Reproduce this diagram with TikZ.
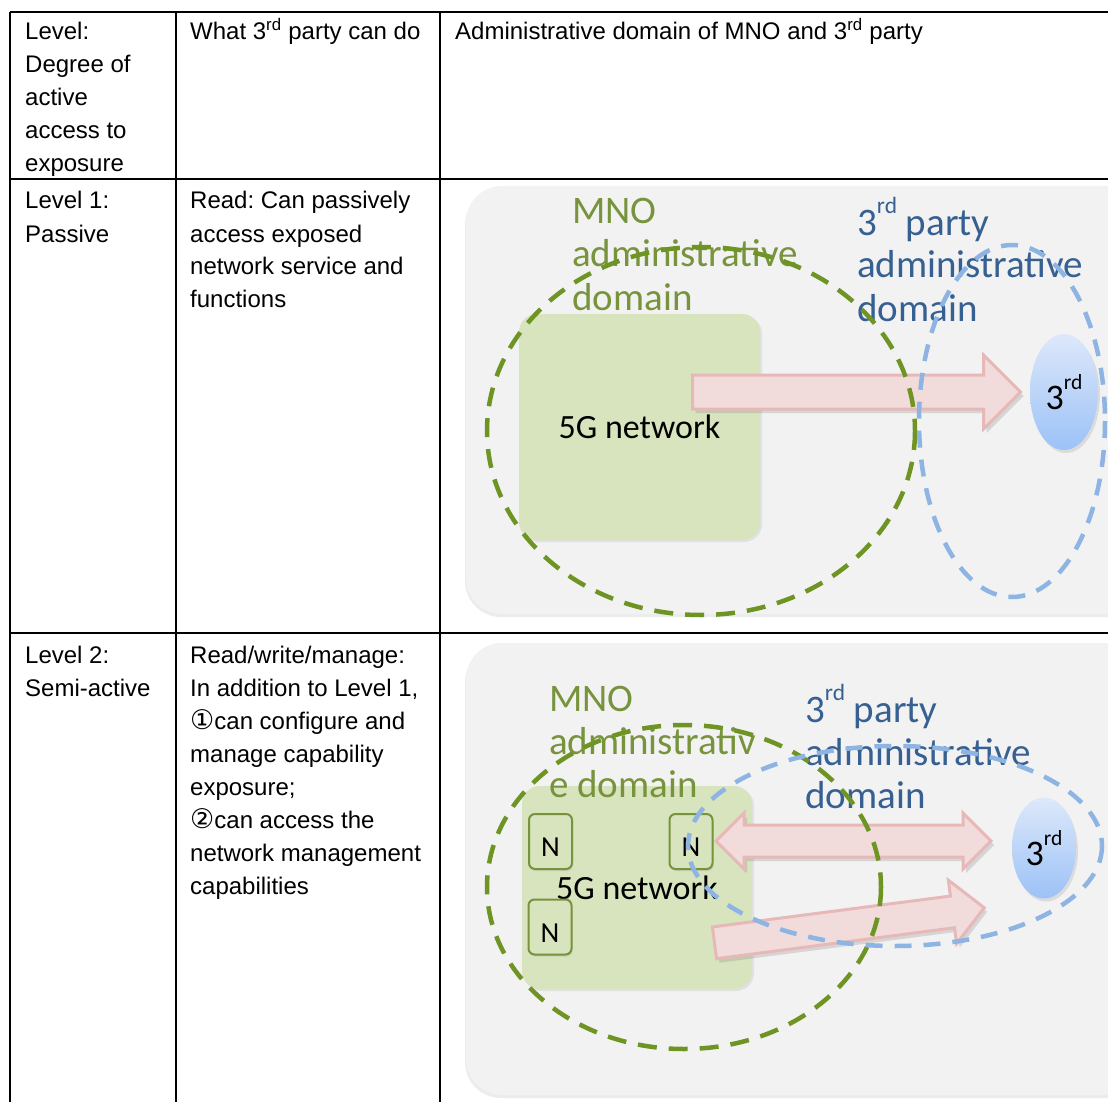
\documentclass[tikz,border=0pt]{standalone}
\usepackage{fontspec}
\setmainfont{Liberation Sans}
\newfontfamily\calibri{Carlito}
\newfontfamily\circfont{DejaVu Sans}
\usetikzlibrary{shapes.geometric, shapes.arrows, shadows}
\definecolor{panelgray}{HTML}{F2F2F2}
\definecolor{netfill}{HTML}{D7E4BD}
\definecolor{mnotext}{HTML}{77933C}
\definecolor{mnodash}{HTML}{6E9424}
\definecolor{partytext}{HTML}{376092}
\definecolor{partydash}{HTML}{8DB4E2}
\definecolor{arrowfill}{HTML}{F2DCDB}
\definecolor{arrowline}{HTML}{E6B9B8}
\definecolor{thirdtop}{HTML}{DDE8FA}
\definecolor{thirdbot}{HTML}{9CC2F7}
\newcommand{\circno}[1]{{\circfont\fontsize{27}{33}\selectfont #1}}
\newcommand{\rdsup}{\raisebox{0.55em}{\fontsize{0.6em}{1em}\selectfont rd}}

\begin{document}
\frenchspacing
\begin{tikzpicture}[x=1pt, y=-1pt,
    cell/.style={anchor=base west, inner sep=0pt, font=\fontsize{24}{33}\selectfont},
    grid line/.style={line width=1.8pt},
    panel/.style={fill=panelgray, rounded corners=36pt, drop shadow={shadow xshift=-1pt, shadow yshift=-3pt, opacity=0.15}},
    network/.style={fill=netfill, rounded corners=18pt, font=\calibri\fontsize{34}{40}\selectfont, drop shadow={shadow xshift=2pt, shadow yshift=-2pt, opacity=0.15}},
    nf box/.style={draw=mnotext, line width=2pt, fill=netfill, rounded corners=6pt, minimum width=43pt, minimum height=55pt, font=\calibri\fontsize{29}{30}\selectfont, drop shadow={shadow xshift=1pt, shadow yshift=-2pt, opacity=0.2}},
    third/.style={ellipse, top color=thirdtop, bottom color=thirdbot, inner sep=0pt, font=\calibri\fontsize{36}{40}\selectfont, drop shadow={shadow xshift=2pt, shadow yshift=-3pt, opacity=0.2}},
    mno label/.style={anchor=base west, inner sep=0pt, text=mnotext, font=\calibri\fontsize{39}{43}\selectfont},
    party label/.style={anchor=base west, inner sep=0pt, text=partytext, font=\calibri\fontsize{39}{43}\selectfont},
    exposure/.style={single arrow, anchor=tail, fill=arrowfill, draw=arrowline, line width=3pt, inner xsep=0pt, single arrow head extend=#1, drop shadow={shadow xshift=3pt, shadow yshift=-4pt, opacity=0.25}},
    two way/.style={double arrow, fill=arrowfill, draw=arrowline, line width=3pt, inner xsep=0pt, double arrow head extend=#1, drop shadow={shadow xshift=3pt, shadow yshift=-4pt, opacity=0.25}},
    mno domain/.style={draw=mnodash, line width=4.5pt, dash pattern=on 19pt off 12pt},
    party domain/.style={draw=partydash, line width=4.5pt, dash pattern=on 17pt off 12pt},
]

\useasboundingbox (0,0) rectangle (1108,1102);
\clip (0,0) rectangle (1108,1102);
\fill[white] (0,0) rectangle (1108,1102);

% Table grid
\draw[grid line] (10,12) -- (1120,12);
\draw[grid line] (10,179) -- (1120,179);
\draw[grid line] (10,633) -- (1120,633);
\draw[grid line] (10,12) -- (10,1110);
\draw[grid line] (176,12) -- (176,1110);
\draw[grid line] (440,12) -- (440,1110);

% Header row
\node[cell] (h1) at (25,40) {\begin{tabular}[t]{@{}l@{}}Level:\\Degree of\\active\\access to\\exposure\end{tabular}};
\node[cell] (h2) at (190,40) {What 3\textsuperscript{rd} party can do};
\node[cell] (h3) at (455,40) {Administrative domain of MNO and 3\textsuperscript{rd} party};

% Level 1 row
\node[cell] (l1a) at (25,209) {\begin{tabular}[t]{@{}l@{}}Level 1:\\Passive\end{tabular}};
\node[cell] (l1b) at (190,209) {\begin{tabular}[t]{@{}l@{}}Read: Can passively\\access exposed\\network service and\\functions\end{tabular}};

% Level 2 row
\node[cell] (l2a) at (25,663) {\begin{tabular}[t]{@{}l@{}}Level 2:\\Semi-active\end{tabular}};
\node[cell] (l2b) at (190,663) {\begin{tabular}[t]{@{}l@{}}Read/write/manage:\\In addition to Level 1,\\\circno{①}can configure and\\manage capability\\exposure;\\\circno{②}can access the\\network management\\capabilities\end{tabular}};

% Level 1 picture
\path[panel] (466,186) rectangle (1150,614);
\node[network, minimum width=241pt, minimum height=226pt] (net1) at (639.5,427) {5G network};
\node[exposure=20pt, minimum height=328pt, inner ysep=15.5pt] (exp1) at (691,392) {};
\node[third, minimum width=68pt, minimum height=116pt] (rd1) at (1064,392) {3\rdsup};
\node[mno label] (mno1) at (572,224) {\begin{tabular}[t]{@{}l@{}}MNO\\administrative\\domain\end{tabular}};
\node[party label] (pty1) at (857,235) {\begin{tabular}[t]{@{}l@{}}3\rdsup\ party\\administrative\\domain\end{tabular}};
\draw[mno domain] (701,431) ellipse [x radius=214, y radius=184];
\draw[party domain] (1012,421) ellipse [x radius=93, y radius=176];

% Level 2 picture
\path[panel] (466,643) rectangle (1150,1095);
\node[network, minimum width=230pt, minimum height=203pt] (net2) at (637,887.5) {5G network};
\node[nf box] (nf1) at (550.5,841.5) {\raisebox{-15pt}[0pt][0pt]{N}};
\node[nf box] (nf2) at (691,841.5) {\raisebox{-15pt}[0pt][0pt]{N}};
\node[nf box] (nf3) at (550,927) {\raisebox{-15pt}[0pt][0pt]{N}};
\node[two way=12pt, minimum height=275pt, inner ysep=14.5pt] (exp2) at (853.5,841) {};
\node[exposure=16pt, minimum height=272pt, inner ysep=14.5pt, rotate=7.4] (exp3) at (713,943) {};
\node[third, minimum width=64pt, minimum height=101pt] (rd2) at (1044,848) {3\rdsup};
\node[mno label] (mno2) at (549,711) {\begin{tabular}[t]{@{}l@{}}MNO\\administrativ\\e domain\end{tabular}};
\node[party label] (pty2) at (805,722) {\begin{tabular}[t]{@{}l@{}}3\rdsup\ party\\administrative\\domain\end{tabular}};
\draw[mno domain] (684,887) ellipse [x radius=197, y radius=162];
\draw[party domain] (895,846) ellipse [x radius=207, y radius=100];

\end{tikzpicture}
\end{document}
